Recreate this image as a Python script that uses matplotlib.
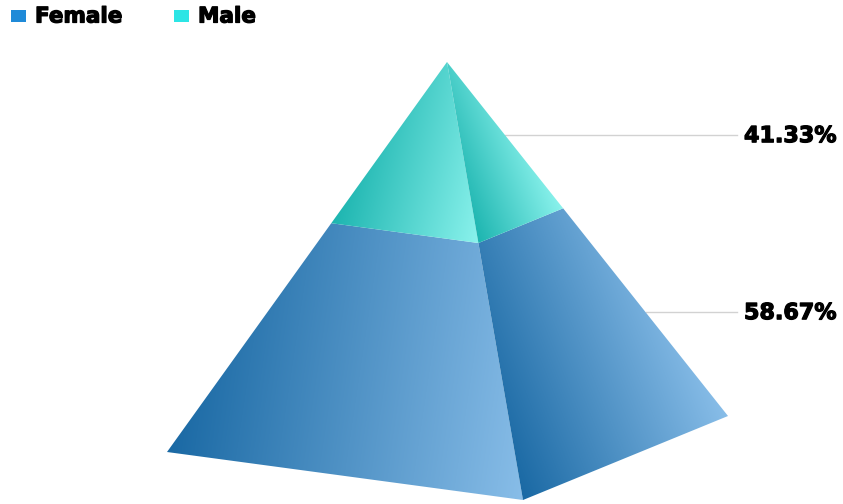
import numpy as np
import matplotlib
matplotlib.use("Agg")
import matplotlib.pyplot as plt
import matplotlib.patheffects as pe
from matplotlib.colors import LinearSegmentedColormap
from matplotlib.patches import Polygon, Rectangle

categories = ["Female", "Male"]
values = [58.67, 41.33]
legend_colors = ["#1f8ad8", "#2ce5e5"]

# pyramid corners in pixels
apex = np.array([447, 62])
left = np.array([167, 452])
front = np.array([523, 500])
right = np.array([728, 416])

female_cmap = LinearSegmentedColormap.from_list("female", ["#1a69a4", "#88bde8"])
male_cmap = LinearSegmentedColormap.from_list("male", ["#1db5b0", "#8af2ec"])


def gradient_face(ax, pts, direction, cmap):
    pts = np.array(pts, dtype=float)
    x0, y0 = np.floor(pts.min(axis=0))
    x1, y1 = np.ceil(pts.max(axis=0))
    xx, yy = np.meshgrid(np.arange(x0, x1 + 1), np.arange(y0, y1 + 1))
    proj = xx * direction[0] + yy * direction[1]
    corners = pts @ np.array(direction)
    t = (proj - corners.min()) / (corners.max() - corners.min())
    im = ax.imshow(t, cmap=cmap, vmin=0, vmax=1, extent=(x0, x1, y1, y0),
                   aspect="auto", interpolation="bilinear", zorder=2)
    patch = Polygon(pts, closed=True, transform=ax.transData, fc="none", ec="none")
    ax.add_patch(patch)
    im.set_clip_path(patch)


fig = plt.figure(figsize=(8.43, 5.04), dpi=100)
ax = fig.add_axes([0, 0, 1, 1])
ax.set_xlim(0, 843)
ax.set_ylim(504, 0)
ax.axis("off")

# the male slice sits on top, its share measured down from the apex
split = values[1] / sum(values)
left_s = apex + (left - apex) * split
front_s = apex + (front - apex) * split
right_s = apex + (right - apex) * split

gradient_face(ax, [left_s, front_s, front, left], (1, 0.15), female_cmap)
gradient_face(ax, [front_s, right_s, right, front], (1, -0.4), female_cmap)
gradient_face(ax, [apex, left_s, front_s], (1, 0.25), male_cmap)
gradient_face(ax, [apex, front_s, right_s], (1, -0.4), male_cmap)

# thicker strokes for the labels
heavy = [pe.withStroke(linewidth=0.9, foreground="black")]

# leader lines start halfway down each slice on the right edge
label_x = 737
mids = [split + (1 - split) / 2, split / 2]
for val, mid in zip(values, mids):
    p = apex + (right - apex) * mid
    ax.plot([p[0], label_x], [p[1] - 0.5, p[1] - 0.5], color="#d2d2d2", lw=1, zorder=1)
    ax.text(744, p[1] + 1, f"{val:.2f}%", fontsize=16, fontweight="bold",
            family="DejaVu Sans", color="black", va="center", ha="left", zorder=3,
            path_effects=heavy)

legend_x = [11, 174]
for name, color, x in zip(categories, legend_colors, legend_x):
    ax.add_patch(Rectangle((x, 10), 15, 12, fc=color, ec="none", zorder=3))
    ax.text(x + 24, 16.5, name, fontsize=15.5, fontweight="bold",
            family="DejaVu Sans", color="black", va="center", ha="left", zorder=3,
            path_effects=heavy)

ax.set_xlim(0, 843)
ax.set_ylim(504, 0)
fig.savefig("out.png", dpi=100, facecolor="white")
